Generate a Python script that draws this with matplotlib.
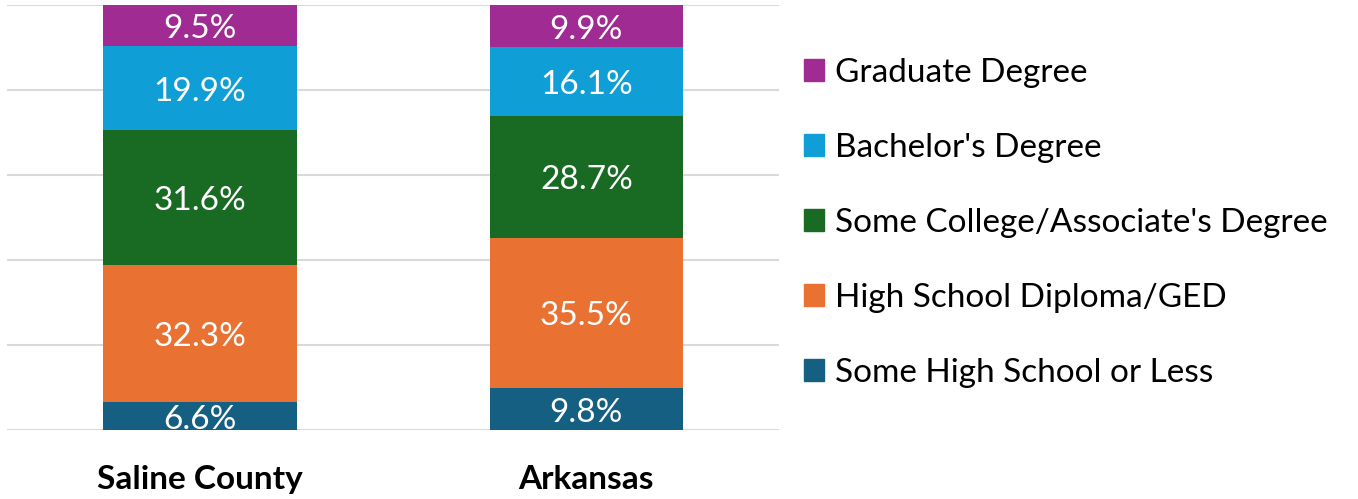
import numpy as np
import matplotlib.pyplot as plt
from matplotlib.patches import Patch

plt.rcParams['font.family'] = ['Lato', 'DejaVu Sans']

# Data
regions = ['Saline County', 'Arkansas']
levels = ['Some High School or Less', 'High School Diploma/GED',
          "Some College/Associate's Degree", "Bachelor's Degree", 'Graduate Degree']
some_hs = [6.6, 9.8]
hs_diploma = [32.3, 35.5]
some_college = [31.6, 28.7]
bachelors = [19.9, 16.1]
graduate = [9.5, 9.9]

colors = ['#156082', '#E97132', '#196B24', '#0F9ED5', '#A02B93']
series = [some_hs, hs_diploma, some_college, bachelors, graduate]

fig = plt.figure(figsize=(13.58, 4.99), dpi=100)
ax = fig.add_axes([0.005, 0.138, 0.569, 0.852])

x = np.arange(len(regions))
bottom = np.zeros(len(regions))
for vals, col in zip(series, colors):
    vals = np.array(vals)
    ax.bar(x, vals, 0.5, bottom=bottom, color=col, zorder=3)
    for xi, b, v in zip(x, bottom, vals):
        ax.annotate(f'{v:.1f}%', (xi, b + v / 2), xytext=(0, -2.5),
                    textcoords='offset points', ha='center', va='center',
                    color='white', fontsize=24, zorder=4)
    bottom += vals

ax.set_xlim(-0.5, 1.5)
ax.set_ylim(0, 100)
ax.set_yticks(np.arange(0, 101, 20))
ax.yaxis.grid(True, color='#D9D9D9', linewidth=1.5, zorder=0)
ax.set_yticklabels([])
ax.tick_params(axis='both', length=0)
ax.set_xticks(x)
ax.set_xticklabels(regions, fontsize=24, fontweight='bold')
ax.tick_params(axis='x', pad=25)
for s in ax.spines.values():
    s.set_visible(False)

handles = [Patch(color=c) for c in colors[::-1]]
fig.legend(handles, levels[::-1], loc='upper left', bbox_to_anchor=(0.582, 0.911),
           frameon=False, fontsize=24, handlelength=0.6, handleheight=0.6,
           handletextpad=0.35, labelspacing=1.35, borderaxespad=0)

fig.savefig('out.png', dpi=100)
